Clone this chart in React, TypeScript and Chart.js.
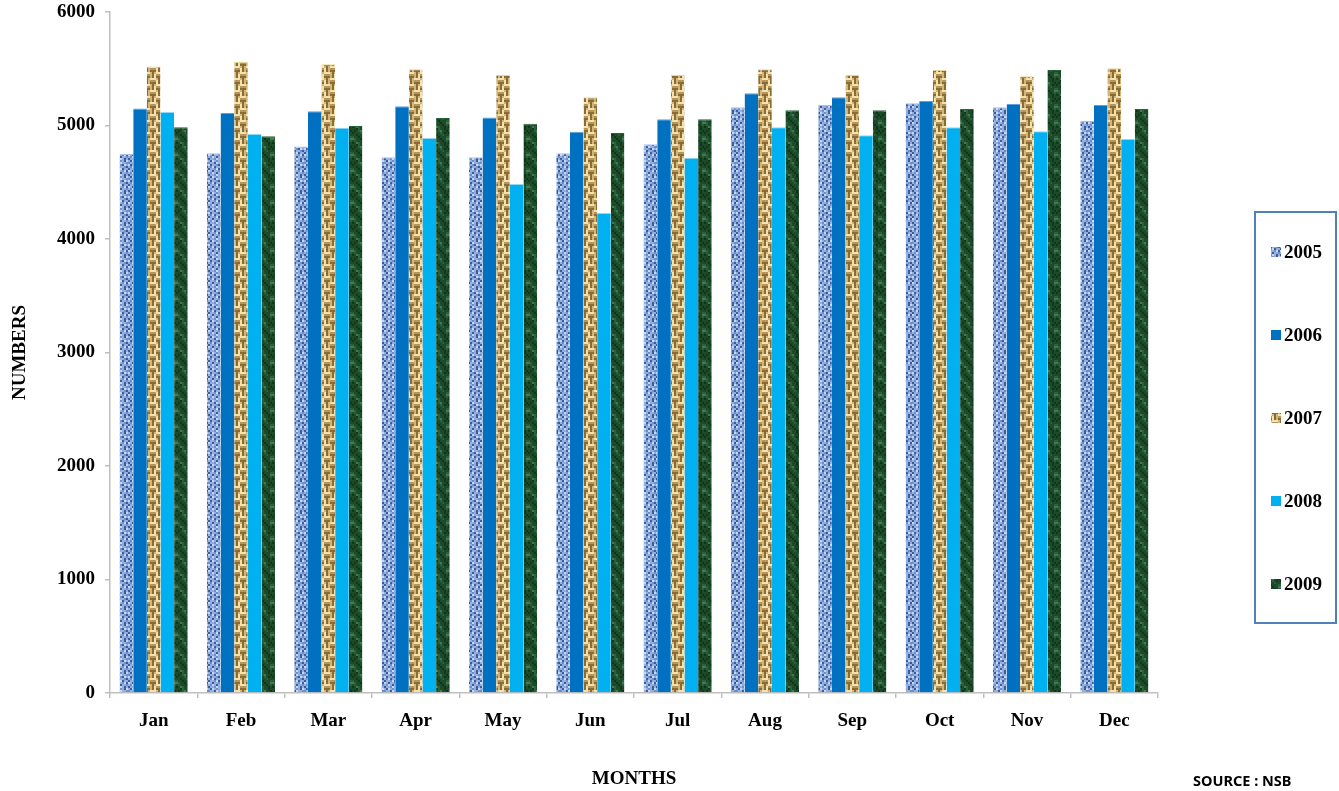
import React, { useEffect, useRef } from 'react';
import { Chart, registerables } from 'chart.js';

Chart.register(...registerables);

const months = ['Jan', 'Feb', 'Mar', 'Apr', 'May', 'Jun', 'Jul', 'Aug', 'Sep', 'Oct', 'Nov', 'Dec'];
const seriesLabels = ['2005', '2006', '2007', '2008', '2009'];
const values2005 = [4750, 4755, 4815, 4720, 4720, 4755, 4835, 5160, 5180, 5195, 5160, 5040];
const values2006 = [5150, 5110, 5125, 5170, 5070, 4945, 5055, 5285, 5250, 5215, 5190, 5180];
const values2007 = [5520, 5560, 5540, 5495, 5445, 5250, 5445, 5495, 5445, 5490, 5435, 5505];
const values2008 = [5120, 4925, 4980, 4890, 4485, 4230, 4715, 4985, 4915, 4985, 4950, 4880];
const values2009 = [4985, 4905, 4995, 5065, 5015, 4935, 5055, 5135, 5135, 5145, 5490, 5145];
const yMin = 0;
const yMax = 6000;
const yStep = 1000;

const SERIF = '"Liberation Serif", "Times New Roman", serif';
const FS = 19;

function makePattern(ctx: CanvasRenderingContext2D, map: string[], palette: Record<string, string>, scale: number) {
  const h = map.length;
  const w = map[0].length;
  const c = document.createElement('canvas');
  c.width = w * scale;
  c.height = h * scale;
  const t = c.getContext('2d')!;
  for (let y = 0; y < h; y++) {
    for (let x = 0; x < w; x++) {
      t.fillStyle = palette[map[y][x]];
      t.fillRect(x * scale, y * scale, scale, scale);
    }
  }
  return ctx.createPattern(c, 'repeat') as CanvasPattern;
}

const blueMap = [
  'bdlbmbdl',
  'mbbdlbbm',
  'ldbbmdlb',
  'bmldbbmd',
  'dbbmldbb',
  'lbdbbmld',
  'bmlbdbbm',
  'dbbmlbdb',
];
const bluePal = { b: '#93afe0', d: '#3a5c9e', l: '#c8d8f4', m: '#6f8fcc' };

const tanMap = [
  'lllbdb',
  'mmmbdl',
  'dddbdl',
  'bdblll',
  'ldbmmm',
  'ldbddd',
];
const tanPal = { b: '#d2b679', l: '#f3e2ae', d: '#8a6a35', m: '#b89658' };

const greenMap = [
  'bbdlbbdb',
  'bdblhbbd',
  'dbbblbdb',
  'bbdbblbb',
  'lbbdbbbl',
  'hlbbdbbh',
  'blbbbdbl',
  'dbhlbbdb',
];
const greenPal = { b: '#1c4a2a', d: '#103519', l: '#2a6238', h: '#3f7d50' };

const legendPlugin = {
  id: 'boxLegend',
  afterDraw(chart: any) {
    const ctx = chart.ctx as CanvasRenderingContext2D;
    ctx.save();
    ctx.strokeStyle = '#4f81bd';
    ctx.lineWidth = 2;
    ctx.strokeRect(1255, 212, 81, 411);
    const ys = [252, 335, 418, 501, 584];
    chart.data.datasets.forEach((ds: any, i: number) => {
      ctx.fillStyle = ds.backgroundColor;
      ctx.fillRect(1271, ys[i] - 5, 10, 10);
      ctx.fillStyle = '#000';
      ctx.font = `bold ${FS}px ${SERIF}`;
      ctx.textBaseline = 'middle';
      ctx.textAlign = 'left';
      ctx.fillText(ds.label, 1284, ys[i] + 1);
    });
    ctx.font = 'bold 14.5px "Noto Sans", "Liberation Sans", sans-serif';
    ctx.fillStyle = '#000';
    ctx.textBaseline = 'middle';
    ctx.fillText('SOURCE : NSB', 1193, 782);
    ctx.restore();
  },
};

export default function App() {
  const ref = useRef<HTMLCanvasElement>(null);

  useEffect(() => {
    document.body.style.margin = '0';
    const canvas = ref.current!;
    const ctx = canvas.getContext('2d')!;
    const p2005 = makePattern(ctx, blueMap, bluePal, 2);
    const p2007 = makePattern(ctx, tanMap, tanPal, 2);
    const p2009 = makePattern(ctx, greenMap, greenPal, 2);
    const colors: any[] = [p2005, '#0070c0', p2007, '#00b0f0', p2009];
    const tops = ['#a9c0ea', '#5aa0dc', '#e8d398', '#8fd8f6', '#2a6238'];
    const allValues = [values2005, values2006, values2007, values2008, values2009];

    const chart = new Chart(canvas, {
      type: 'bar',
      data: {
        labels: months,
        datasets: allValues.map((v, i) => ({
          label: seriesLabels[i],
          data: v,
          backgroundColor: colors[i],
          borderColor: tops[i],
          borderWidth: { top: 1, left: 0, right: 0, bottom: 0 },
          borderSkipped: 'bottom',
          categoryPercentage: 0.78,
          barPercentage: 1.0,
        })),
      },
      options: {
        animation: false,
        responsive: false,
        layout: { padding: { left: 0, right: 181, top: 12, bottom: 0 } },
        plugins: { legend: { display: false }, tooltip: { enabled: false } },
        scales: {
          x: {
            offset: true,
            grid: { display: true, drawOnChartArea: false, drawTicks: true, tickLength: 5, color: '#bfbfbf', lineWidth: 1.5 },
            border: { color: '#bfbfbf', width: 1.5 },
            ticks: { color: '#000', font: { family: SERIF, size: FS, weight: 'bold' }, padding: 12, maxRotation: 0 },
            title: { display: true, text: 'MONTHS', color: '#000', font: { family: SERIF, size: FS, weight: 'bold' }, padding: { top: 0, bottom: 1 } },
            afterFit: (s: any) => { s.height = 98; s.paddingLeft = 0; s.paddingRight = 0; },
          },
          y: {
            min: yMin,
            max: yMax,
            grid: { display: true, drawOnChartArea: false, drawTicks: true, tickLength: 5, color: '#bfbfbf', lineWidth: 1.5 },
            border: { color: '#bfbfbf', width: 1.5 },
            ticks: { stepSize: yStep, color: '#000', font: { family: SERIF, size: FS, weight: 'bold' }, padding: 10, callback: (v: any) => String(v) },
            title: { display: true, text: 'NUMBERS', color: '#000', font: { family: SERIF, size: FS, weight: 'bold' }, padding: { top: 9, bottom: 0 } },
            afterFit: (s: any) => { s.width = 110; s.paddingTop = 0; s.paddingBottom = 0; },
          },
        },
      },
      plugins: [legendPlugin],
    } as any);
    return () => chart.destroy();
  }, []);

  return (
    <div style={{ position: 'absolute', left: 0, top: 0, width: 1339, height: 791 }}>
      <canvas ref={ref} width={1339} height={791} style={{ width: 1339, height: 791, display: 'block' }} />
    </div>
  );
}
